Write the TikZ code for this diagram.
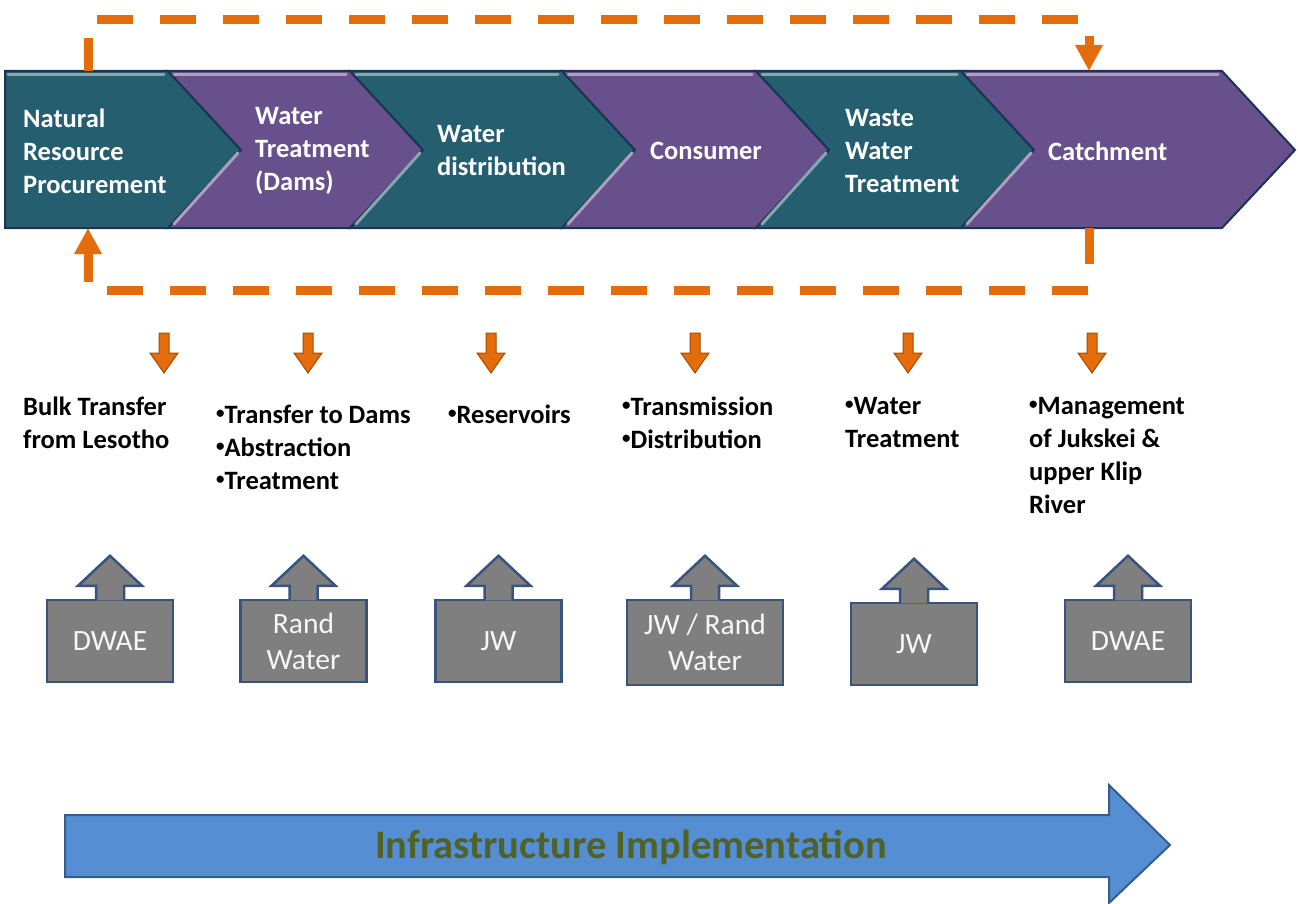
\documentclass[tikz,border=0pt]{standalone}
\usepackage{fontspec}
\setmainfont{Carlito}
\usetikzlibrary{arrows.meta}
\definecolor{chevteal}{RGB}{37,94,110}
\definecolor{chevpurple}{RGB}{104,80,140}
\definecolor{chevedge}{RGB}{28,52,84}
\definecolor{loopor}{RGB}{228,108,10}
\definecolor{boxgray}{RGB}{127,127,127}
\definecolor{boxedge}{RGB}{56,83,125}
\definecolor{infrablue}{RGB}{86,142,212}
\definecolor{infraedge}{RGB}{56,93,138}
\definecolor{infragreen}{RGB}{79,98,40}
\newcommand{\bul}{\raisebox{5pt}{\fontsize{17}{17}\selectfont •}}
\tikzstyle{stage} = [draw=chevedge, line width=2pt, line join=miter]
\tikzstyle{hilite} = [line width=3pt, line cap=round]
\tikzstyle{stagetext} = [anchor=west, inner sep=0pt, align=left, text=white, font=\bfseries\fontsize{26.5}{33}\selectfont]
\tikzstyle{task} = [anchor=north west, inner sep=0pt, align=left, font=\bfseries\fontsize{26.5}{33}\selectfont]
\tikzstyle{agency} = [rectangle, minimum width=126pt, minimum height=82pt, fill=boxgray, draw=boxedge, line width=2.5pt, text=white!94!gray, align=center, font=\fontsize{29.5}{36}\selectfont]
\tikzstyle{agencyarrow} = [fill=boxgray, draw=boxedge, line width=2.5pt, line join=miter]
\tikzstyle{loopline} = [draw=loopor, line width=9pt, dash pattern=on 36pt off 27pt, -{Triangle[width=26pt,length=26pt]}]
\tikzstyle{taskarrow} = [fill=loopor, draw=loopor!70!black, line width=1pt]
\tikzstyle{infra} = [fill=infrablue, draw=infraedge, line width=2pt, line join=miter]

\begin{document}
\begin{tikzpicture}[x=1pt, y=-1pt]
        \useasboundingbox (0,0) rectangle (1298,904);

        % value chain
        \draw [stage, fill=chevteal] (5,71) -- (168,71) -- (241,150) -- (168,228) -- (5,228) -- cycle;
        \draw [hilite, chevteal!55!white] (8,75) -- (164,75);
        \foreach \b/\f/\c in {168/350/chevpurple, 350/562/chevteal, 562/756/chevpurple, 756/961/chevteal, 961/1222/chevpurple}{
          \draw [stage, fill=\c] (\b,71) -- (\f,71) -- (\f+73,150) -- (\f,228) -- (\b,228) -- (\b+73,150) -- cycle;
          \draw [hilite, \c!55!white] (\b+6,75) -- (\f-4,75);
          \draw [hilite, \c!55!white] (\b+70,153) -- (\b+6,224);
        }

        \node (nrp) [stagetext] at (23,151) {Natural\\Resource\\Procurement};
        \node (wtd) [stagetext] at (255,151) {Water\\Treatment\\(Dams)};
        \node (wd) [stagetext] at (437,151) {Water\\distribution};
        \node (cons) [stagetext] at (650,151) {Consumer};
        \node (wwt) [stagetext] at (845,151) {Waste\\Water\\Treatment};
        \node (cat) [stagetext] at (1048,151) {Catchment};

        % feedback loop
        \coordinate (topL) at (88,71);
        \coordinate (topR) at (1089,71);
        \coordinate (botR) at (1089,228);
        \coordinate (botL) at (88,228);
        \draw [loopline, dash phase=3pt] (topL) -- ++(0,-51) -| (topR);
        \draw [loopline] (botR) -- ++(0,62) -| (botL);

        % small arrows
        \foreach \x in {164,308,491,695,908,1092}
          \filldraw [taskarrow] (\x-5,333) -- (\x+5,333) -- (\x+5,353) -- (\x+14,353) -- (\x,373) -- (\x-14,353) -- (\x-5,353) -- cycle;

        \node (bulk) [task] at (23,397) {Bulk Transfer\\from Lesotho};
        \node (dams) [task] at (216,405) {\bul Transfer to Dams\\\bul Abstraction\\\bul Treatment};
        \node (res) [task] at (448,405) {\bul Reservoirs};
        \node (trans) [task] at (622,397) {\bul Transmission\\\bul Distribution};
        \node (wtr) [task] at (845,397) {\bul Water\\Treatment};
        \node (mgmt) [task] at (1029,397) {\bul Management\\of Jukskei \&\\upper Klip\\River};

        % responsible bodies
        \node (ag1) [agency] at (110,641) {DWAE};
        \node (ag2) [agency] at (303.5,641) {Rand\\Water};
        \node (ag3) [agency] at (498.5,641) {JW};
        \node (ag4) [agency, minimum width=156pt, minimum height=85pt] at (705,642.5) {JW / Rand\\Water};
        \node (ag5) [agency] at (914,644) {JW};
        \node (ag6) [agency] at (1128,641) {DWAE};
        \foreach \n in {1,...,6}
          \filldraw [agencyarrow] ([xshift=-14pt,yshift=-1.5pt]ag\n.north) -- ++(0,-14.5) -- ++(-18,0) -- ++(32,-30) -- ++(32,30) -- ++(-18,0) -- ++(0,14.5);

        % implementation arrow
        \filldraw [infra] (65,815) -- (1109,815) -- (1109,785) -- (1170,845) -- (1109,903) -- (1109,877) -- (65,877) -- cycle;
        \node (impl) [text=infragreen, font=\bfseries\fontsize{40.5}{46}\selectfont] at (631,847) {Infrastructure Implementation};
\end{tikzpicture}
\end{document}
